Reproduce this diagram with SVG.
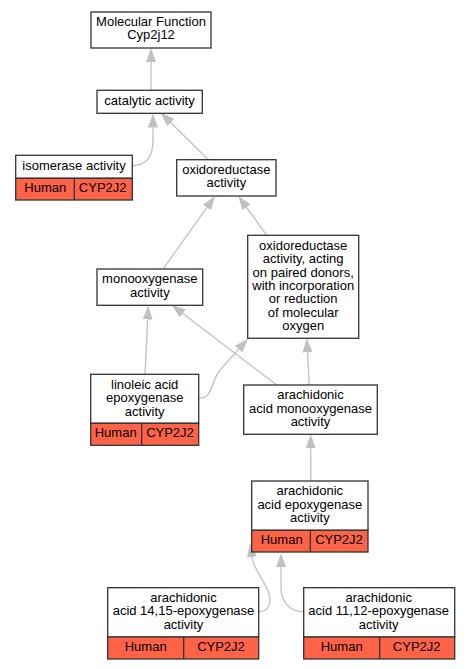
<svg xmlns="http://www.w3.org/2000/svg" width="469" height="669" viewBox="0 0 469 669">
<style>
.box{fill:#ffffff;stroke:#333333;stroke-width:1.3}
.org{fill:#ff6347;stroke:#333333;stroke-width:1.3}
.div{stroke:#333333;stroke-width:1.3}
text{font-family:"Liberation Sans",Arial,sans-serif;font-size:13px;fill:#000000;text-anchor:middle}
.edge{fill:none;stroke:#c0c0c0;stroke-width:1.3;marker-end:url(#arr)}
</style>
<defs>
<marker id="arr" markerUnits="userSpaceOnUse" viewBox="0 -5 14 10" refX="0" refY="0" markerWidth="14" markerHeight="10" orient="auto">
<path d="M0,-5 L14,0 L0,5 z" fill="#c0c0c0"/>
</marker>
</defs>
<rect width="469" height="669" fill="#ffffff"/>
<g id="connectors">
<path class="edge" d="M151,90.3 L151,62"/>
<path class="edge" d="M132.5,165.5 C145,165.5 153,158 153,140 L153,127.5"/>
<path class="edge" d="M208.3,159.7 L170.7,122.5"/>
<path class="edge" d="M163.7,268.3 L206.9,207.4"/>
<path class="edge" d="M266.7,235.3 L246.5,207.3"/>
<path class="edge" d="M145,374.3 L147.6,319.5"/>
<path class="edge" d="M199,398.3 C209,398.3 211,390 214,381 C216,376 217,374 220,370 L238.6,349.1"/>
<path class="edge" d="M276.7,385 L182.8,313.5"/>
<path class="edge" d="M309.3,385 L307.5,352.3"/>
<path class="edge" d="M310.7,481 L310.7,448.3"/>
<path class="edge" d="M259,611.5 C267,611.5 272,606 269,594 C265,580 254,571 252,557"/>
<path class="edge" d="M303.5,611.7 C291,611.7 281,603 281,587 L281,567.3"/>
</g>
<g id="n_mf">
<rect class="box" x="91" y="12" width="120" height="36"/>
<text x="151" y="26">Molecular Function</text>
<text x="151" y="39.3">Cyp2j12</text>
</g>
<g id="n_catalytic">
<rect class="box" x="97" y="90.3" width="105.3" height="23"/>
<text x="149.5" y="105">catalytic activity</text>
</g>
<g id="n_isomerase">
<rect class="box" x="15.7" y="155.3" width="116.6" height="23"/>
<rect class="org" x="15.7" y="178.3" width="116.6" height="21.7"/>
<line class="div" x1="74.3" y1="178.3" x2="74.3" y2="200"/>
<text x="74" y="170">isomerase activity</text>
<text x="45.3" y="192">Human</text>
<text x="102.7" y="192">CYP2J2</text>
</g>
<g id="n_oxidoreductase">
<rect class="box" x="176.7" y="159.7" width="99.3" height="36.3"/>
<text x="226.3" y="174">oxidoreductase</text>
<text x="226.3" y="187.3">activity</text>
</g>
<g id="n_oxid_acting">
<rect class="box" x="247.7" y="235.3" width="111" height="103"/>
<text x="303.2" y="250">oxidoreductase</text>
<text x="303.2" y="263.3">activity, acting</text>
<text x="303.2" y="276.6">on paired donors,</text>
<text x="303.2" y="290">with incorporation</text>
<text x="303.2" y="303.3">or reduction</text>
<text x="303.2" y="316.6">of molecular</text>
<text x="303.2" y="330">oxygen</text>
</g>
<g id="n_monooxygenase">
<rect class="box" x="97" y="269" width="105.7" height="36.3"/>
<text x="149.8" y="283.3">monooxygenase</text>
<text x="149.8" y="296.6">activity</text>
</g>
<g id="n_linoleic">
<rect class="box" x="90.7" y="374.3" width="108" height="49"/>
<rect class="org" x="90.7" y="423.3" width="108" height="22"/>
<line class="div" x1="141.7" y1="423.3" x2="141.7" y2="445.3"/>
<text x="144.7" y="389">linoleic acid</text>
<text x="144.7" y="402.3">epoxygenase</text>
<text x="144.7" y="415.6">activity</text>
<text x="115.7" y="436.6">Human</text>
<text x="170" y="436.6">CYP2J2</text>
</g>
<g id="n_aa_mono">
<rect class="box" x="243.7" y="385" width="133.6" height="49.3"/>
<text x="310.5" y="399">arachidonic</text>
<text x="310.5" y="412.6">acid monooxygenase</text>
<text x="310.5" y="426">activity</text>
</g>
<g id="n_aa_epox">
<rect class="box" x="251.7" y="481" width="116.3" height="49.3"/>
<rect class="org" x="251.7" y="530.3" width="116.3" height="21.7"/>
<line class="div" x1="310.3" y1="530.3" x2="310.3" y2="552"/>
<text x="309.8" y="495">arachidonic</text>
<text x="309.8" y="508.6">acid epoxygenase</text>
<text x="309.8" y="522">activity</text>
<text x="281.7" y="544.3">Human</text>
<text x="339" y="544.3">CYP2J2</text>
</g>
<g id="n_aa1415">
<rect class="box" x="107.7" y="587.7" width="151" height="49.3"/>
<rect class="org" x="107.7" y="637" width="151" height="22"/>
<line class="div" x1="183.7" y1="637" x2="183.7" y2="659"/>
<text x="183.5" y="602">arachidonic</text>
<text x="183.5" y="615.3">acid 14,15-epoxygenase</text>
<text x="183.5" y="628.6">activity</text>
<text x="145.7" y="651">Human</text>
<text x="221" y="651">CYP2J2</text>
</g>
<g id="n_aa1112">
<rect class="box" x="303.7" y="587.7" width="151" height="49.3"/>
<rect class="org" x="303.7" y="637" width="151" height="22"/>
<line class="div" x1="379.7" y1="637" x2="379.7" y2="659"/>
<text x="378.7" y="602">arachidonic</text>
<text x="378.7" y="615.3">acid 11,12-epoxygenase</text>
<text x="378.7" y="628.6">activity</text>
<text x="341.7" y="651">Human</text>
<text x="416.7" y="651">CYP2J2</text>
</g>
</svg>
